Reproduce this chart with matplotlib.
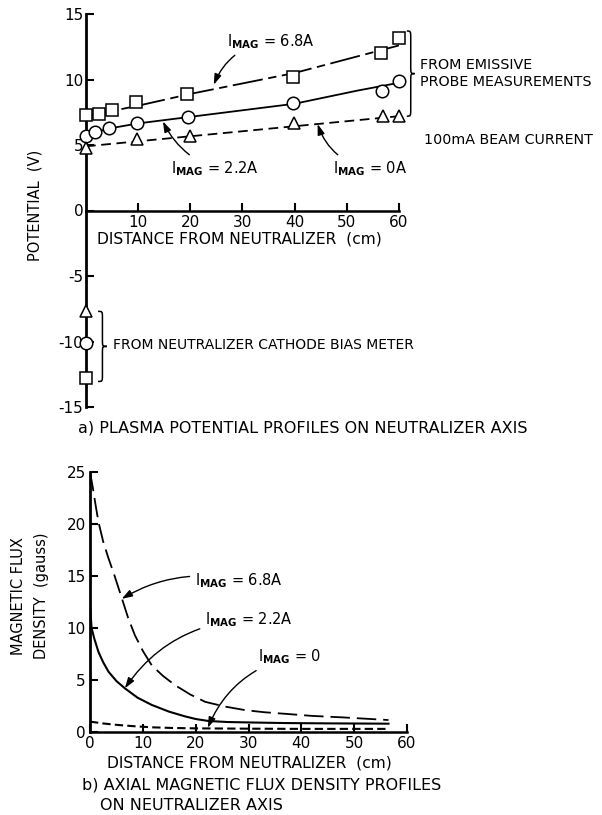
import matplotlib
matplotlib.use('Agg')
import matplotlib.pyplot as plt
from matplotlib.path import Path
from matplotlib.patches import PathPatch

plt.rcParams['font.family'] = ['DejaVu Sans']
plt.rcParams['lines.scale_dashes'] = False
plt.rcParams['mathtext.default'] = 'regular'
plt.rcParams['axes.unicode_minus'] = False

# ---------------- data: (a) plasma potential ----------------
dist_68 = [0, 2.5, 4.9, 9.6, 19.3, 39.6, 56.5, 60]
pot_68 = [7.3, 7.4, 7.7, 8.3, 8.9, 10.2, 12.0, 13.2]
dist_22 = [0, 1.7, 4.5, 9.7, 19.6, 39.7, 56.8, 60]
pot_22 = [5.65, 6.0, 6.3, 6.7, 7.1, 8.2, 9.1, 9.85]
dist_0 = [0, 9.8, 19.9, 39.9, 57, 60]
pot_0 = [4.75, 5.45, 5.65, 6.65, 7.2, 7.25]

fit68_x = [0, 10, 20, 40, 60]
fit68_y = [7.2, 8.0, 8.9, 10.5, 12.6]
fit22_x = [0, 2, 5, 10, 20, 40, 52, 60]
fit22_y = [5.6, 6.0, 6.3, 6.65, 7.15, 8.15, 9.15, 9.75]
fit0_x = [0, 60]
fit0_y = [4.9, 7.2]

bias_pot_0 = -7.7
bias_pot_22 = -10.1
bias_pot_68 = -12.8

pot_xticks = [10, 20, 30, 40, 50, 60]
pot_yticks = [-15, -10, -5, 0, 5, 10, 15]

# ---------------- data: (b) magnetic flux density ----------------
flux_x68 = [0, 0.5, 1.0, 1.6, 2.5, 3.5, 4.6, 6.0, 7.2, 8.5, 10.0, 11.7,
            13.8, 16.1, 19.0, 21.8, 25.5, 29.4, 33.0, 36.9, 42.0, 48.0, 56.5]
flux_68 = [25, 23.6, 22.0, 20.2, 18.3, 16.7, 15.1, 12.9, 11.0, 9.3, 7.8, 6.4,
           5.4, 4.5, 3.6, 2.9, 2.45, 2.1, 1.9, 1.75, 1.55, 1.4, 1.15]
flux_x22 = [0, 0.3, 0.8, 1.6, 2.5, 3.5, 5.0, 6.6, 9.0, 11.7, 15.0, 18.0,
            20.0, 22.4, 26.0, 30.0, 36.9, 45.0, 56.5]
flux_22 = [12.2, 10.0, 9.0, 7.7, 6.7, 5.8, 4.9, 4.2, 3.3, 2.6, 1.95, 1.5,
           1.25, 1.06, 0.96, 0.92, 0.86, 0.83, 0.8]
flux_x0 = [0, 2.5, 5.4, 8.5, 11.7, 15.5, 19.9, 30, 40, 56.5]
flux_0 = [1.0, 0.82, 0.67, 0.55, 0.45, 0.39, 0.35, 0.32, 0.3, 0.3]

flux_xticks = [0, 10, 20, 30, 40, 50, 60]
flux_yticks = [0, 5, 10, 15, 20, 25]

W, H = 602, 815
fig = plt.figure(figsize=(W / 100, H / 100), dpi=100)


def fx(px):
    return px / W


def fy(py):
    return 1 - py / H


FS = 10
FS_CAP = 11.5
FS_XLAB = 11.2
FS_RIGHT = 10.3


def brace(ax, x, w, y0, y1, r):
    ym = (y0 + y1) / 2
    xm = x + w / 2
    verts = [(x, y1), (xm, y1), (xm, y1), (xm, y1 - r),
             (xm, ym + r),
             (xm, ym), (xm, ym), (x + w, ym),
             (xm, ym), (xm, ym), (xm, ym - r),
             (xm, y0 + r),
             (xm, y0), (xm, y0), (x, y0)]
    codes = [Path.MOVETO, Path.CURVE4, Path.CURVE4, Path.CURVE4,
             Path.LINETO,
             Path.CURVE4, Path.CURVE4, Path.CURVE4,
             Path.CURVE4, Path.CURVE4, Path.CURVE4,
             Path.LINETO,
             Path.CURVE4, Path.CURVE4, Path.CURVE4]
    ax.add_patch(PathPatch(Path(verts, codes), fill=False, lw=1.1,
                           color='black', clip_on=False))


def style_axes(ax):
    for s in ['top', 'right']:
        ax.spines[s].set_visible(False)
    ax.spines['left'].set_linewidth(2.0)
    ax.spines['bottom'].set_linewidth(1.8)
    ax.tick_params(direction='in', length=6, width=1.5, labelsize=11,
                   pad=3)


# ================= (a) =================
ax1 = fig.add_axes([fx(86), fy(407), fx(399) - fx(86), fy(14) - fy(407)])
style_axes(ax1)
ax1.set_xlim(0, 60)
ax1.set_ylim(-15, 15)
ax1.spines['bottom'].set_position(('data', 0))
ax1.set_xticks(pot_xticks)
ax1.set_yticks(pot_yticks)
ax1.tick_params(axis='y', pad=2)

mk = dict(mfc='white', mec='black', mew=1.1, ms=9, ls='none', zorder=5,
          clip_on=False)
ax1.plot(fit68_x, fit68_y, color='black', lw=1.3, dashes=(22, 4, 6, 4),
         zorder=3)
ax1.plot(fit22_x, fit22_y, color='black', lw=1.3, zorder=3)
ax1.plot(fit0_x, fit0_y, color='black', lw=1.3, dashes=(7, 4), zorder=3)
ax1.plot(dist_68, pot_68, marker='s', **mk)
ax1.plot(dist_22, pot_22, marker='o', **mk)
ax1.plot(dist_0, pot_0, marker='^', **mk)
ax1.plot([0], [bias_pot_0], marker='^', **mk)
ax1.plot([0], [bias_pot_22], marker='o', **mk)
ax1.plot([0], [bias_pot_68], marker='s', **mk)

arrow = dict(arrowstyle='-|>,head_length=0.6,head_width=0.2', color='black',
             lw=1.0, shrinkA=2, shrinkB=0)
ax1.annotate(r'I$_{\mathbf{MAG}}$ = 6.8A', xy=(24.5, 9.6), xytext=(27.0, 12.9),
             fontsize=FS + 0.5, ha='left', va='center',
             arrowprops=dict(connectionstyle='arc3,rad=0.3', **arrow))
ax1.annotate(r'I$_{\mathbf{MAG}}$ = 2.2A', xy=(14.75, 6.8), xytext=(16.2, 3.2),
             fontsize=FS + 0.5, ha='left', va='center',
             arrowprops=dict(connectionstyle='arc3,rad=-0.2', **arrow))
ax1.annotate(r'I$_{\mathbf{MAG}}$ = 0A', xy=(44.4, 6.6), xytext=(47.3, 3.2),
             fontsize=FS + 0.5, ha='left', va='center',
             arrowprops=dict(connectionstyle='arc3,rad=-0.3', **arrow))

brace(ax1, 61.5, 1.5, 7.2, 13.7, 0.6)
brace(ax1, 2.3, 1.7, -13.05, -7.7, 0.5)

fig.text(fx(420), fy(65), 'FROM EMISSIVE', fontsize=FS_RIGHT, ha='left',
         va='center')
fig.text(fx(420), fy(82), 'PROBE MEASUREMENTS', fontsize=FS_RIGHT, ha='left',
         va='center')
fig.text(fx(424), fy(140), '100mA BEAM CURRENT', fontsize=FS_RIGHT, ha='left',
         va='center')
fig.text(fx(113), fy(345), 'FROM NEUTRALIZER CATHODE BIAS METER', fontsize=FS,
         ha='left', va='center')
fig.text(fx(97), fy(239), 'DISTANCE FROM NEUTRALIZER  (cm)', fontsize=FS_XLAB,
         ha='left', va='center')
fig.text(fx(35), fy(205), 'POTENTIAL  (V)', fontsize=10.5, rotation=90,
         ha='center', va='center')
fig.text(fx(78), fy(428), 'a) PLASMA POTENTIAL PROFILES ON NEUTRALIZER AXIS',
         fontsize=FS_CAP, ha='left', va='center')

# ================= (b) =================
ax2 = fig.add_axes([fx(90), fy(732), fx(407) - fx(90), fy(472) - fy(732)])
style_axes(ax2)
ax2.set_xlim(0, 60)
ax2.set_ylim(0, 25)
ax2.set_xticks(flux_xticks)
ax2.set_yticks(flux_yticks)

ax2.plot(flux_x68, flux_68, color='black', lw=1.3, dashes=(14, 5), zorder=3)
ax2.plot(flux_x22, flux_22, color='black', lw=1.5, zorder=3)
ax2.plot(flux_x0, flux_0, color='black', lw=1.5, dashes=(6, 3), zorder=3)

ax2.annotate(r'I$_{\mathbf{MAG}}$ = 6.8A', xy=(6.0, 12.8), xytext=(19.9, 14.6),
             fontsize=FS + 0.5, ha='left', va='center',
             arrowprops=dict(connectionstyle='arc3,rad=0.2', **arrow))
ax2.annotate(r'I$_{\mathbf{MAG}}$ = 2.2A', xy=(6.6, 4.2), xytext=(21.8, 10.8),
             fontsize=FS + 0.5, ha='left', va='center',
             arrowprops=dict(connectionstyle='arc3,rad=0.25', **arrow))
ax2.annotate(r'I$_{\mathbf{MAG}}$ = 0', xy=(22.3, 0.4), xytext=(31.8, 7.2),
             fontsize=FS + 0.5, ha='left', va='center',
             arrowprops=dict(connectionstyle='arc3,rad=0.25', **arrow))

fig.text(fx(107), fy(763), 'DISTANCE FROM NEUTRALIZER  (cm)', fontsize=FS_XLAB,
         ha='left', va='center')
fig.text(fx(30), fy(596), 'MAGNETIC FLUX\nDENSITY  (gauss)', fontsize=10.5,
         rotation=90, ha='center', va='center', linespacing=1.6)
fig.text(fx(82), fy(785), 'b) AXIAL MAGNETIC FLUX DENSITY PROFILES',
         fontsize=FS_CAP, ha='left', va='center')
fig.text(fx(100), fy(805), 'ON NEUTRALIZER AXIS', fontsize=FS_CAP, ha='left',
         va='center')

fig.savefig('out.png', dpi=100, facecolor='white')
